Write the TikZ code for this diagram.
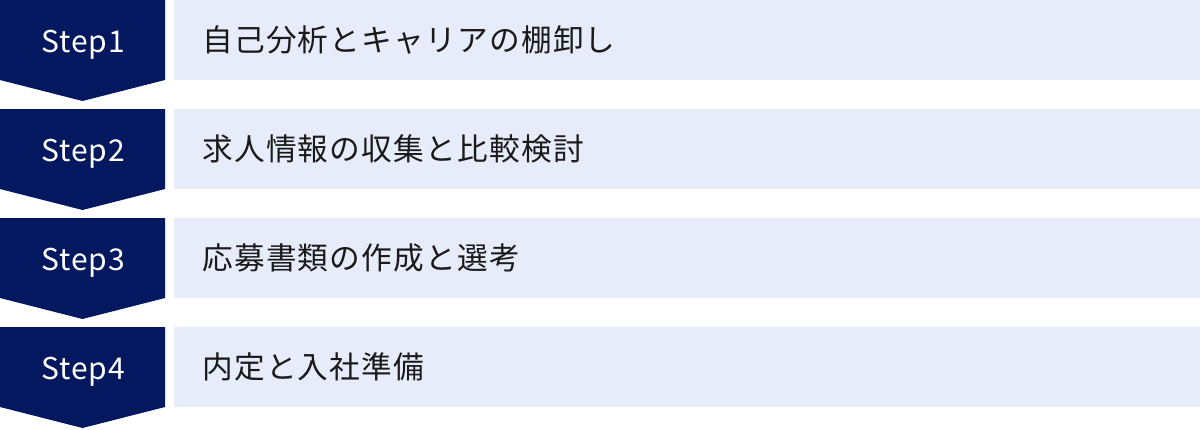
\documentclass[tikz,border=0pt]{standalone}
\usepackage{fontspec}
\setmainfont{Noto Sans CJK JP}
\usetikzlibrary{positioning}
\definecolor{stepnavy}{RGB}{4,24,96}
\definecolor{boxblue}{RGB}{230,236,249}
\definecolor{textgray}{RGB}{26,26,26}

\begin{document}
\begin{tikzpicture}[x=0.75pt,y=-0.75pt,
    steplabel/.style={anchor=base,text=white,inner sep=0pt,font=\fontsize{22.5}{27}\selectfont\addfontfeature{LetterSpace=3}},
    rowtext/.style={anchor=base west,inner sep=0pt,text=textgray,font=\fontsize{23}{28}\selectfont\addfontfeature{LetterSpace=4}}]
            \useasboundingbox (0,0) rectangle (1200,429);

            %step 1
            \fill[stepnavy] (0,0) -- (165,0) -- (165,80) -- (82.5,101) -- (0,80) -- cycle;
            \fill[boxblue] (174,0) rectangle (1200,80);
            \node [steplabel] (step1) at (83,52) {Step1};
            \node [rowtext] (text1) at (202,51.5) {自己分析とキャリアの棚卸し};

            %step 2
            \fill[stepnavy] (0,109) -- (165,109) -- (165,189) -- (82.5,210) -- (0,189) -- cycle;
            \fill[boxblue] (174,109) rectangle (1200,189);
            \node [steplabel] (step2) at (83,161) {Step2};
            \node [rowtext] (text2) at (202,160.5) {求人情報の収集と比較検討};

            %step 3
            \fill[stepnavy] (0,218) -- (165,218) -- (165,298) -- (82.5,319) -- (0,298) -- cycle;
            \fill[boxblue] (174,218) rectangle (1200,298);
            \node [steplabel] (step3) at (83,270) {Step3};
            \node [rowtext] (text3) at (202,269.5) {応募書類の作成と選考};

            %step 4
            \fill[stepnavy] (0,327) -- (165,327) -- (165,407) -- (82.5,428) -- (0,407) -- cycle;
            \fill[boxblue] (174,327) rectangle (1200,407);
            \node [steplabel] (step4) at (83,379) {Step4};
            \node [rowtext] (text4) at (202,378.5) {内定と入社準備};
\end{tikzpicture}
\end{document}
